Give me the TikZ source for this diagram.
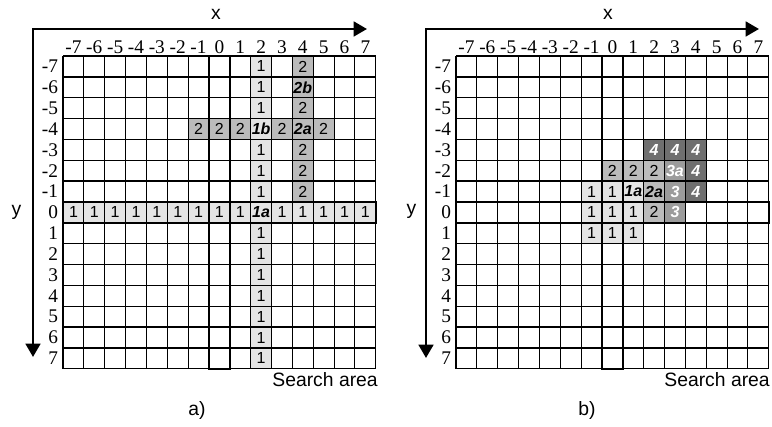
\documentclass[tikz,border=0pt]{standalone}
\usepackage{fontspec}
\setmainfont{Liberation Sans}
\newfontfamily\serifnum{Liberation Serif}
\usetikzlibrary{arrows.meta}
\definecolor{gA}{HTML}{E4E4E4}
\definecolor{gB}{HTML}{BBBBBB}
\definecolor{gC}{HTML}{9C9C9C}
\definecolor{gD}{HTML}{6F6F6F}
\tikzset{
  vline/.style={line width=0.8pt, black},
  hline/.style={line width=1.05pt, black},
  thickbox/.style={line width=1.5pt, black},
  ticklab/.style={font=\serifnum\fontsize{14.5}{16}\selectfont, inner sep=0pt},
  cn/.style={font=\fontsize{12}{14}\selectfont, inner sep=0pt},
  ce/.style={font=\fontsize{12}{14}\selectfont\bfseries\itshape, inner sep=0pt},
  cw/.style={ce, text=white},
  axisline/.style={line width=2pt, line join=miter,
    {Triangle[length=10pt,width=11pt]}-{Triangle[length=10pt,width=11pt]}},
  biglab/.style={font=\fontsize{14.5}{16}\selectfont, inner sep=0pt},
  axlab/.style={font=\fontsize{14.5}{16}\selectfont, inner sep=0pt},
}
\newcommand\gridframe[1]{%
  \foreach \k in {-7.5,-6.5,...,7.5} {
    \draw[vline] (\k,-7.5) -- (\k,7.5);
    \draw[hline] (-7.5,\k) -- (7.5,\k);
  }
  \draw[thickbox] (-.5,-7.5) rectangle (.5,7.5);
  \draw[thickbox] (-7.5,-.5) rectangle (7.5,.5);
  \foreach \i in {-7,...,7} {
    \node[ticklab, anchor=base] (#1-cx\i) at ([yshift=2.2pt]\i,-7.5) {\i};
    \node[ticklab, anchor=east] (#1-ry\i) at ([xshift=-3.5pt]-7.5,\i) {\i};
  }
}
\begin{document}
\begin{tikzpicture}[x=0.75pt,y=-0.75pt]
\useasboundingbox (0,0) rectangle (772,427);

% ---------- panel a ----------
\coordinate (La) at (33,29);
\coordinate (Lx) at (367,29);
\coordinate (Ly) at (33,357);
\draw[axisline] (Ly) -- (La) -- (Lx);
\node[axlab] (Lxl) at (216,14) {x};
\node[axlab] (Lyl) at (16.5,212) {y};
\node[biglab, anchor=east] (Lsa) at (378,380) {Search area};
\node[biglab] (Lcap) at (197,410) {a)};

\begin{scope}[shift={(164.55pt,-159.3pt)}, x=15.6375pt, y=-15.6375pt]
  \fill[gA] (1.5,-7.5) rectangle (2.5,7.5);
  \fill[gA] (-7.5,-.5) rectangle (7.5,.5);
  \fill[gB] (3.5,-7.5) rectangle (4.5,-.5);
  \fill[gB] (-1.5,-4.5) rectangle (1.5,-3.5);
  \fill[gB] (2.5,-4.5) rectangle (5.5,-3.5);
  \gridframe{L}
  \foreach \j in {-7,-6,-5,-3,-2,-1,1,2,3,4,5,6,7}
    \node[cn] (L-a\j) at (2,\j) {1};
  \node[ce] (L-1b) at (2,-4) {1b};
  \node[ce] (L-1a) at (2,0) {1a};
  \foreach \i in {-7,-6,-5,-4,-3,-2,-1,0,1,3,4,5,6,7}
    \node[cn] (L-b\i) at (\i,0) {1};
  \foreach \j in {-7,-5,-3,-2,-1}
    \node[cn] (L-c\j) at (4,\j) {2};
  \node[ce] (L-2b) at (4,-6) {2b};
  \node[ce] (L-2a) at (4,-4) {2a};
  \foreach \i in {-1,0,1,3,5}
    \node[cn] (L-d\i) at (\i,-4) {2};
\end{scope}

% ---------- panel b ----------
\coordinate (Ra) at (426,29);
\coordinate (Rx) at (759,29);
\coordinate (Ry) at (426,358);
\draw[axisline] (Ry) -- (Ra) -- (Rx);
\node[axlab] (Rxl) at (608,14) {x};
\node[axlab] (Ryl) at (411.5,211) {y};
\node[biglab, anchor=east] (Rsa) at (770,380) {Search area};
\node[biglab] (Rcap) at (587,410) {b)};

\begin{scope}[shift={(459.3pt,-159.3pt)}, x=15.6375pt, y=-15.6375pt]
  \fill[gA] (-1.5,-1.5) rectangle (1.5,1.5);
  \fill[gB] (-0.5,-2.5) rectangle (2.5,-1.5);
  \fill[gB] (1.5,-1.5) rectangle (2.5,.5);
  \fill[gC] (2.5,-2.5) rectangle (3.5,.5);
  \fill[gD] (1.5,-3.5) rectangle (4.5,-2.5);
  \fill[gD] (3.5,-2.5) rectangle (4.5,-.5);
  \gridframe{R}
  \node[cn] (R-1p) at (-1,-1) {1};
  \node[cn] (R-1q) at (0,-1) {1};
  \node[ce] (R-1a) at (1,-1) {1a};
  \node[cn] (R-1r) at (-1,0) {1};
  \node[cn] (R-1s) at (0,0) {1};
  \node[cn] (R-1t) at (1,0) {1};
  \node[cn] (R-1u) at (-1,1) {1};
  \node[cn] (R-1v) at (0,1) {1};
  \node[cn] (R-1w) at (1,1) {1};
  \node[cn] (R-2p) at (0,-2) {2};
  \node[cn] (R-2q) at (1,-2) {2};
  \node[cn] (R-2r) at (2,-2) {2};
  \node[ce] (R-2a) at (2,-1) {2a};
  \node[cn] (R-2s) at (2,0) {2};
  \node[cw] (R-3a) at (3,-2) {3a};
  \node[cw] (R-3p) at (3,-1) {3};
  \node[cw] (R-3q) at (3,0) {3};
  \node[cw] (R-4p) at (2,-3) {4};
  \node[cw] (R-4q) at (3,-3) {4};
  \node[cw] (R-4r) at (4,-3) {4};
  \node[cw] (R-4s) at (4,-2) {4};
  \node[cw] (R-4t) at (4,-1) {4};
\end{scope}
\end{tikzpicture}
\end{document}
